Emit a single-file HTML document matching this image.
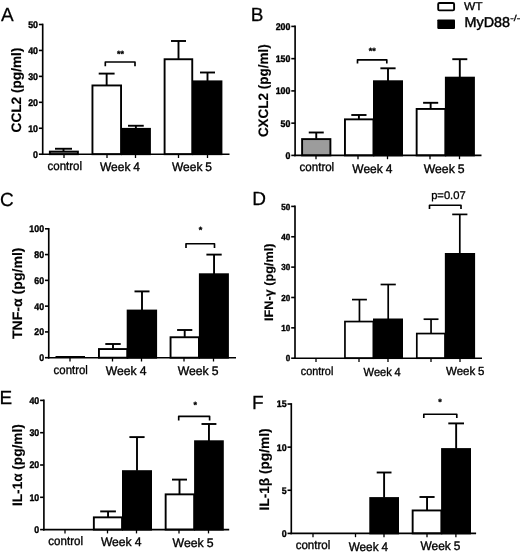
<!DOCTYPE html>
<html><head><meta charset="utf-8"><title>Figure</title>
<style>
html,body{margin:0;padding:0;background:#fff;}
svg{display:block;font-family:"Liberation Sans", sans-serif;fill:#000;text-rendering:geometricPrecision;}
</style></head><body>
<svg width="520" height="553" viewBox="0 0 520 553">
<rect x="0" y="0" width="520" height="553" fill="#fff" stroke="none"/>
<line x1="63.50" y1="148.75" x2="63.50" y2="151.25" stroke="#000" stroke-width="1.9" stroke-linecap="butt"/>
<line x1="55.00" y1="148.75" x2="72.00" y2="148.75" stroke="#000" stroke-width="1.9" stroke-linecap="butt"/>
<rect x="49.85" y="151.60" width="28.05" height="2.60" fill="#9c9c9c" stroke="#000" stroke-width="1.9"/>
<line x1="106.65" y1="73.60" x2="106.65" y2="85.10" stroke="#000" stroke-width="1.9" stroke-linecap="butt"/>
<line x1="98.70" y1="73.60" x2="114.60" y2="73.60" stroke="#000" stroke-width="1.9" stroke-linecap="butt"/>
<rect x="92.45" y="85.45" width="28.60" height="68.75" fill="#ffffff" stroke="#000" stroke-width="1.9"/>
<line x1="135.88" y1="125.75" x2="135.88" y2="128.50" stroke="#000" stroke-width="1.9" stroke-linecap="butt"/>
<line x1="128.00" y1="125.75" x2="143.75" y2="125.75" stroke="#000" stroke-width="1.9" stroke-linecap="butt"/>
<rect x="122.05" y="128.85" width="27.90" height="25.35" fill="#000000" stroke="#000" stroke-width="1.9"/>
<line x1="178.50" y1="41.00" x2="178.50" y2="58.90" stroke="#000" stroke-width="1.9" stroke-linecap="butt"/>
<line x1="171.00" y1="41.00" x2="186.00" y2="41.00" stroke="#000" stroke-width="1.9" stroke-linecap="butt"/>
<rect x="164.60" y="59.25" width="27.65" height="94.95" fill="#ffffff" stroke="#000" stroke-width="1.9"/>
<line x1="207.50" y1="72.50" x2="207.50" y2="81.00" stroke="#000" stroke-width="1.9" stroke-linecap="butt"/>
<line x1="200.00" y1="72.50" x2="215.00" y2="72.50" stroke="#000" stroke-width="1.9" stroke-linecap="butt"/>
<rect x="193.25" y="81.35" width="28.20" height="72.85" fill="#000000" stroke="#000" stroke-width="1.9"/>
<line x1="42.70" y1="23.65" x2="42.70" y2="155.05" stroke="#000" stroke-width="1.65" stroke-linecap="butt"/>
<line x1="41.85" y1="154.20" x2="229.50" y2="154.20" stroke="#000" stroke-width="1.65" stroke-linecap="butt"/>
<line x1="38.90" y1="154.20" x2="42.70" y2="154.20" stroke="#000" stroke-width="1.6" stroke-linecap="butt"/>
<text x="38.00" y="157.61" font-size="9.6" font-weight="bold" text-anchor="end" textLength="4.90" lengthAdjust="spacingAndGlyphs" stroke="#000" stroke-width="0.4">0</text>
<line x1="38.90" y1="128.26" x2="42.70" y2="128.26" stroke="#000" stroke-width="1.6" stroke-linecap="butt"/>
<text x="38.00" y="131.67" font-size="9.6" font-weight="bold" text-anchor="end" textLength="9.80" lengthAdjust="spacingAndGlyphs" stroke="#000" stroke-width="0.4">10</text>
<line x1="38.90" y1="102.32" x2="42.70" y2="102.32" stroke="#000" stroke-width="1.6" stroke-linecap="butt"/>
<text x="38.00" y="105.73" font-size="9.6" font-weight="bold" text-anchor="end" textLength="9.80" lengthAdjust="spacingAndGlyphs" stroke="#000" stroke-width="0.4">20</text>
<line x1="38.90" y1="76.38" x2="42.70" y2="76.38" stroke="#000" stroke-width="1.6" stroke-linecap="butt"/>
<text x="38.00" y="79.79" font-size="9.6" font-weight="bold" text-anchor="end" textLength="9.80" lengthAdjust="spacingAndGlyphs" stroke="#000" stroke-width="0.4">30</text>
<line x1="38.90" y1="50.44" x2="42.70" y2="50.44" stroke="#000" stroke-width="1.6" stroke-linecap="butt"/>
<text x="38.00" y="53.85" font-size="9.6" font-weight="bold" text-anchor="end" textLength="9.80" lengthAdjust="spacingAndGlyphs" stroke="#000" stroke-width="0.4">40</text>
<line x1="38.90" y1="24.50" x2="42.70" y2="24.50" stroke="#000" stroke-width="1.6" stroke-linecap="butt"/>
<text x="38.00" y="27.91" font-size="9.6" font-weight="bold" text-anchor="end" textLength="9.80" lengthAdjust="spacingAndGlyphs" stroke="#000" stroke-width="0.4">50</text>
<line x1="64.00" y1="154.20" x2="64.00" y2="158.00" stroke="#000" stroke-width="1.3" stroke-linecap="butt"/>
<line x1="107.00" y1="154.20" x2="107.00" y2="158.00" stroke="#000" stroke-width="1.3" stroke-linecap="butt"/>
<line x1="135.50" y1="154.20" x2="135.50" y2="158.00" stroke="#000" stroke-width="1.3" stroke-linecap="butt"/>
<line x1="178.50" y1="154.20" x2="178.50" y2="158.00" stroke="#000" stroke-width="1.3" stroke-linecap="butt"/>
<line x1="207.50" y1="154.20" x2="207.50" y2="158.00" stroke="#000" stroke-width="1.3" stroke-linecap="butt"/>
<text x="47.50" y="169.80" font-size="12.3" textLength="34.50" lengthAdjust="spacingAndGlyphs" word-spacing="-0.4" stroke="#000" stroke-width="0.35">control</text>
<text x="100.00" y="170.50" font-size="12.3" textLength="40.00" lengthAdjust="spacingAndGlyphs" word-spacing="-0.4" stroke="#000" stroke-width="0.35">Week 4</text>
<text x="172.00" y="170.50" font-size="12.3" textLength="40.00" lengthAdjust="spacingAndGlyphs" word-spacing="-0.4" stroke="#000" stroke-width="0.35">Week 5</text>
<text x="20.90" y="132.40" font-size="13.7" font-weight="bold" textLength="84.80" lengthAdjust="spacingAndGlyphs" transform="rotate(-90 20.90 132.40)" stroke="#000" stroke-width="0.15">CCL2 (pg/ml)</text>
<text x="0.90" y="20.70" font-size="19" stroke="#000" stroke-width="0.25">A</text>
<polyline points="105.30,66.30 105.30,62.00 135.00,62.00 135.00,66.30" fill="none" stroke="#000" stroke-width="1.65" stroke-linejoin="round"/>
<text x="120.50" y="56.60" font-size="9" font-weight="bold" text-anchor="middle" stroke="#000" stroke-width="0.3">**</text>
<line x1="316.25" y1="132.50" x2="316.25" y2="138.75" stroke="#000" stroke-width="1.9" stroke-linecap="butt"/>
<line x1="308.75" y1="132.50" x2="323.75" y2="132.50" stroke="#000" stroke-width="1.9" stroke-linecap="butt"/>
<rect x="302.10" y="139.10" width="28.30" height="16.30" fill="#9c9c9c" stroke="#000" stroke-width="1.9"/>
<line x1="358.90" y1="115.00" x2="358.90" y2="119.00" stroke="#000" stroke-width="1.9" stroke-linecap="butt"/>
<line x1="351.30" y1="115.00" x2="366.50" y2="115.00" stroke="#000" stroke-width="1.9" stroke-linecap="butt"/>
<rect x="344.95" y="119.35" width="28.50" height="36.05" fill="#ffffff" stroke="#000" stroke-width="1.9"/>
<line x1="388.00" y1="68.30" x2="388.00" y2="80.90" stroke="#000" stroke-width="1.9" stroke-linecap="butt"/>
<line x1="380.40" y1="68.30" x2="395.60" y2="68.30" stroke="#000" stroke-width="1.9" stroke-linecap="butt"/>
<rect x="373.95" y="81.25" width="28.10" height="74.15" fill="#000000" stroke="#000" stroke-width="1.9"/>
<line x1="430.65" y1="102.80" x2="430.65" y2="108.60" stroke="#000" stroke-width="1.9" stroke-linecap="butt"/>
<line x1="423.10" y1="102.80" x2="438.20" y2="102.80" stroke="#000" stroke-width="1.9" stroke-linecap="butt"/>
<rect x="416.65" y="108.95" width="28.70" height="46.45" fill="#ffffff" stroke="#000" stroke-width="1.9"/>
<line x1="459.80" y1="59.20" x2="459.80" y2="77.30" stroke="#000" stroke-width="1.9" stroke-linecap="butt"/>
<line x1="452.30" y1="59.20" x2="467.30" y2="59.20" stroke="#000" stroke-width="1.9" stroke-linecap="butt"/>
<rect x="445.85" y="77.65" width="28.10" height="77.75" fill="#000000" stroke="#000" stroke-width="1.9"/>
<line x1="295.10" y1="25.55" x2="295.10" y2="156.25" stroke="#000" stroke-width="1.65" stroke-linecap="butt"/>
<line x1="294.25" y1="155.40" x2="481.50" y2="155.40" stroke="#000" stroke-width="1.65" stroke-linecap="butt"/>
<line x1="291.30" y1="155.40" x2="295.10" y2="155.40" stroke="#000" stroke-width="1.6" stroke-linecap="butt"/>
<text x="290.40" y="158.81" font-size="9.6" font-weight="bold" text-anchor="end" textLength="4.90" lengthAdjust="spacingAndGlyphs" stroke="#000" stroke-width="0.4">0</text>
<line x1="291.30" y1="123.15" x2="295.10" y2="123.15" stroke="#000" stroke-width="1.6" stroke-linecap="butt"/>
<text x="290.40" y="126.56" font-size="9.6" font-weight="bold" text-anchor="end" textLength="9.80" lengthAdjust="spacingAndGlyphs" stroke="#000" stroke-width="0.4">50</text>
<line x1="291.30" y1="90.90" x2="295.10" y2="90.90" stroke="#000" stroke-width="1.6" stroke-linecap="butt"/>
<text x="290.40" y="94.31" font-size="9.6" font-weight="bold" text-anchor="end" textLength="14.70" lengthAdjust="spacingAndGlyphs" stroke="#000" stroke-width="0.4">100</text>
<line x1="291.30" y1="58.65" x2="295.10" y2="58.65" stroke="#000" stroke-width="1.6" stroke-linecap="butt"/>
<text x="290.40" y="62.06" font-size="9.6" font-weight="bold" text-anchor="end" textLength="14.70" lengthAdjust="spacingAndGlyphs" stroke="#000" stroke-width="0.4">150</text>
<line x1="291.30" y1="26.40" x2="295.10" y2="26.40" stroke="#000" stroke-width="1.6" stroke-linecap="butt"/>
<text x="290.40" y="29.81" font-size="9.6" font-weight="bold" text-anchor="end" textLength="14.70" lengthAdjust="spacingAndGlyphs" stroke="#000" stroke-width="0.4">200</text>
<line x1="316.00" y1="155.40" x2="316.00" y2="159.20" stroke="#000" stroke-width="1.3" stroke-linecap="butt"/>
<line x1="358.00" y1="155.40" x2="358.00" y2="159.20" stroke="#000" stroke-width="1.3" stroke-linecap="butt"/>
<line x1="387.50" y1="155.40" x2="387.50" y2="159.20" stroke="#000" stroke-width="1.3" stroke-linecap="butt"/>
<line x1="430.00" y1="155.40" x2="430.00" y2="159.20" stroke="#000" stroke-width="1.3" stroke-linecap="butt"/>
<line x1="459.50" y1="155.40" x2="459.50" y2="159.20" stroke="#000" stroke-width="1.3" stroke-linecap="butt"/>
<text x="299.60" y="171.00" font-size="12.3" textLength="34.60" lengthAdjust="spacingAndGlyphs" word-spacing="-0.4" stroke="#000" stroke-width="0.35">control</text>
<text x="352.30" y="173.00" font-size="12.3" textLength="40.00" lengthAdjust="spacingAndGlyphs" word-spacing="-0.4" stroke="#000" stroke-width="0.35">Week 4</text>
<text x="423.70" y="173.00" font-size="12.3" textLength="40.90" lengthAdjust="spacingAndGlyphs" word-spacing="-0.4" stroke="#000" stroke-width="0.35">Week 5</text>
<text x="267.80" y="137.10" font-size="13.7" font-weight="bold" textLength="92.80" lengthAdjust="spacingAndGlyphs" transform="rotate(-90 267.80 137.10)" stroke="#000" stroke-width="0.15">CXCL2 (pg/ml)</text>
<text x="250.80" y="20.70" font-size="19" stroke="#000" stroke-width="0.25">B</text>
<polyline points="357.50,63.50 357.50,59.80 386.80,59.80 386.80,63.50" fill="none" stroke="#000" stroke-width="1.65" stroke-linejoin="round"/>
<text x="372.20" y="54.30" font-size="9" font-weight="bold" text-anchor="middle" stroke="#000" stroke-width="0.3">**</text>
<line x1="55.50" y1="356.50" x2="85.00" y2="356.50" stroke="#000" stroke-width="1.0" stroke-linecap="butt"/>
<line x1="113.00" y1="344.00" x2="113.00" y2="348.70" stroke="#000" stroke-width="1.9" stroke-linecap="butt"/>
<line x1="105.30" y1="344.00" x2="120.70" y2="344.00" stroke="#000" stroke-width="1.9" stroke-linecap="butt"/>
<rect x="98.95" y="349.05" width="28.40" height="8.65" fill="#ffffff" stroke="#000" stroke-width="1.9"/>
<line x1="142.00" y1="291.40" x2="142.00" y2="310.20" stroke="#000" stroke-width="1.9" stroke-linecap="butt"/>
<line x1="134.50" y1="291.40" x2="149.50" y2="291.40" stroke="#000" stroke-width="1.9" stroke-linecap="butt"/>
<rect x="127.65" y="310.55" width="28.50" height="47.15" fill="#000000" stroke="#000" stroke-width="1.9"/>
<line x1="184.70" y1="330.00" x2="184.70" y2="336.90" stroke="#000" stroke-width="1.9" stroke-linecap="butt"/>
<line x1="177.10" y1="330.00" x2="192.30" y2="330.00" stroke="#000" stroke-width="1.9" stroke-linecap="butt"/>
<rect x="170.55" y="337.25" width="28.40" height="20.45" fill="#ffffff" stroke="#000" stroke-width="1.9"/>
<line x1="214.05" y1="254.60" x2="214.05" y2="273.90" stroke="#000" stroke-width="1.9" stroke-linecap="butt"/>
<line x1="206.40" y1="254.60" x2="221.70" y2="254.60" stroke="#000" stroke-width="1.9" stroke-linecap="butt"/>
<rect x="199.85" y="274.25" width="28.10" height="83.45" fill="#000000" stroke="#000" stroke-width="1.9"/>
<line x1="48.75" y1="227.95" x2="48.75" y2="358.55" stroke="#000" stroke-width="1.65" stroke-linecap="butt"/>
<line x1="47.90" y1="357.70" x2="236.00" y2="357.70" stroke="#000" stroke-width="1.65" stroke-linecap="butt"/>
<line x1="44.95" y1="357.70" x2="48.75" y2="357.70" stroke="#000" stroke-width="1.6" stroke-linecap="butt"/>
<text x="44.05" y="361.11" font-size="9.6" font-weight="bold" text-anchor="end" textLength="4.90" lengthAdjust="spacingAndGlyphs" stroke="#000" stroke-width="0.4">0</text>
<line x1="44.95" y1="331.92" x2="48.75" y2="331.92" stroke="#000" stroke-width="1.6" stroke-linecap="butt"/>
<text x="44.05" y="335.33" font-size="9.6" font-weight="bold" text-anchor="end" textLength="9.80" lengthAdjust="spacingAndGlyphs" stroke="#000" stroke-width="0.4">20</text>
<line x1="44.95" y1="306.14" x2="48.75" y2="306.14" stroke="#000" stroke-width="1.6" stroke-linecap="butt"/>
<text x="44.05" y="309.55" font-size="9.6" font-weight="bold" text-anchor="end" textLength="9.80" lengthAdjust="spacingAndGlyphs" stroke="#000" stroke-width="0.4">40</text>
<line x1="44.95" y1="280.36" x2="48.75" y2="280.36" stroke="#000" stroke-width="1.6" stroke-linecap="butt"/>
<text x="44.05" y="283.77" font-size="9.6" font-weight="bold" text-anchor="end" textLength="9.80" lengthAdjust="spacingAndGlyphs" stroke="#000" stroke-width="0.4">60</text>
<line x1="44.95" y1="254.58" x2="48.75" y2="254.58" stroke="#000" stroke-width="1.6" stroke-linecap="butt"/>
<text x="44.05" y="257.99" font-size="9.6" font-weight="bold" text-anchor="end" textLength="9.80" lengthAdjust="spacingAndGlyphs" stroke="#000" stroke-width="0.4">80</text>
<line x1="44.95" y1="228.80" x2="48.75" y2="228.80" stroke="#000" stroke-width="1.6" stroke-linecap="butt"/>
<text x="44.05" y="232.21" font-size="9.6" font-weight="bold" text-anchor="end" textLength="14.70" lengthAdjust="spacingAndGlyphs" stroke="#000" stroke-width="0.4">100</text>
<line x1="70.00" y1="357.70" x2="70.00" y2="361.50" stroke="#000" stroke-width="1.3" stroke-linecap="butt"/>
<line x1="112.50" y1="357.70" x2="112.50" y2="361.50" stroke="#000" stroke-width="1.3" stroke-linecap="butt"/>
<line x1="141.50" y1="357.70" x2="141.50" y2="361.50" stroke="#000" stroke-width="1.3" stroke-linecap="butt"/>
<line x1="184.00" y1="357.70" x2="184.00" y2="361.50" stroke="#000" stroke-width="1.3" stroke-linecap="butt"/>
<line x1="213.50" y1="357.70" x2="213.50" y2="361.50" stroke="#000" stroke-width="1.3" stroke-linecap="butt"/>
<text x="53.60" y="373.70" font-size="12.3" textLength="34.30" lengthAdjust="spacingAndGlyphs" word-spacing="-0.4" stroke="#000" stroke-width="0.35">control</text>
<text x="105.80" y="374.60" font-size="12.3" textLength="40.60" lengthAdjust="spacingAndGlyphs" word-spacing="-0.4" stroke="#000" stroke-width="0.35">Week 4</text>
<text x="177.70" y="374.90" font-size="12.3" textLength="40.80" lengthAdjust="spacingAndGlyphs" word-spacing="-0.4" stroke="#000" stroke-width="0.35">Week 5</text>
<text x="22.10" y="339.00" font-size="13.7" font-weight="bold" textLength="91.50" lengthAdjust="spacingAndGlyphs" transform="rotate(-90 22.10 339.00)" stroke="#000" stroke-width="0.15">TNF-α (pg/ml)</text>
<text x="0.00" y="205.60" font-size="19" stroke="#000" stroke-width="0.25">C</text>
<polyline points="186.00,248.00 186.00,243.70 214.50,243.70 214.50,248.00" fill="none" stroke="#000" stroke-width="1.65" stroke-linejoin="round"/>
<text x="200.40" y="233.40" font-size="9" font-weight="bold" text-anchor="middle" stroke="#000" stroke-width="0.3">*</text>
<line x1="359.45" y1="299.60" x2="359.45" y2="321.20" stroke="#000" stroke-width="1.7" stroke-linecap="butt"/>
<line x1="352.00" y1="299.60" x2="366.90" y2="299.60" stroke="#000" stroke-width="1.7" stroke-linecap="butt"/>
<rect x="344.95" y="321.55" width="28.40" height="36.65" fill="#ffffff" stroke="#000" stroke-width="1.7"/>
<line x1="388.20" y1="284.50" x2="388.20" y2="319.00" stroke="#000" stroke-width="1.7" stroke-linecap="butt"/>
<line x1="380.60" y1="284.50" x2="395.80" y2="284.50" stroke="#000" stroke-width="1.7" stroke-linecap="butt"/>
<rect x="373.85" y="319.35" width="28.30" height="38.85" fill="#000000" stroke="#000" stroke-width="1.7"/>
<line x1="431.05" y1="319.20" x2="431.05" y2="333.20" stroke="#000" stroke-width="1.7" stroke-linecap="butt"/>
<line x1="423.60" y1="319.20" x2="438.50" y2="319.20" stroke="#000" stroke-width="1.7" stroke-linecap="butt"/>
<rect x="416.80" y="333.55" width="28.20" height="24.65" fill="#ffffff" stroke="#000" stroke-width="1.7"/>
<line x1="459.80" y1="214.40" x2="459.80" y2="253.50" stroke="#000" stroke-width="1.7" stroke-linecap="butt"/>
<line x1="452.20" y1="214.40" x2="467.40" y2="214.40" stroke="#000" stroke-width="1.7" stroke-linecap="butt"/>
<rect x="445.70" y="253.85" width="28.55" height="104.35" fill="#000000" stroke="#000" stroke-width="1.7"/>
<line x1="295.00" y1="205.55" x2="295.00" y2="359.05" stroke="#000" stroke-width="1.65" stroke-linecap="butt"/>
<line x1="294.15" y1="358.20" x2="482.00" y2="358.20" stroke="#000" stroke-width="1.65" stroke-linecap="butt"/>
<line x1="291.20" y1="358.20" x2="295.00" y2="358.20" stroke="#000" stroke-width="1.6" stroke-linecap="butt"/>
<text x="290.30" y="361.32" font-size="8.8" font-weight="bold" text-anchor="end" textLength="4.50" lengthAdjust="spacingAndGlyphs" stroke="#000" stroke-width="0.4">0</text>
<line x1="291.20" y1="327.84" x2="295.00" y2="327.84" stroke="#000" stroke-width="1.6" stroke-linecap="butt"/>
<text x="290.30" y="330.96" font-size="8.8" font-weight="bold" text-anchor="end" textLength="9.00" lengthAdjust="spacingAndGlyphs" stroke="#000" stroke-width="0.4">10</text>
<line x1="291.20" y1="297.48" x2="295.00" y2="297.48" stroke="#000" stroke-width="1.6" stroke-linecap="butt"/>
<text x="290.30" y="300.60" font-size="8.8" font-weight="bold" text-anchor="end" textLength="9.00" lengthAdjust="spacingAndGlyphs" stroke="#000" stroke-width="0.4">20</text>
<line x1="291.20" y1="267.12" x2="295.00" y2="267.12" stroke="#000" stroke-width="1.6" stroke-linecap="butt"/>
<text x="290.30" y="270.24" font-size="8.8" font-weight="bold" text-anchor="end" textLength="9.00" lengthAdjust="spacingAndGlyphs" stroke="#000" stroke-width="0.4">30</text>
<line x1="291.20" y1="236.76" x2="295.00" y2="236.76" stroke="#000" stroke-width="1.6" stroke-linecap="butt"/>
<text x="290.30" y="239.88" font-size="8.8" font-weight="bold" text-anchor="end" textLength="9.00" lengthAdjust="spacingAndGlyphs" stroke="#000" stroke-width="0.4">40</text>
<line x1="291.20" y1="206.40" x2="295.00" y2="206.40" stroke="#000" stroke-width="1.6" stroke-linecap="butt"/>
<text x="290.30" y="209.52" font-size="8.8" font-weight="bold" text-anchor="end" textLength="9.00" lengthAdjust="spacingAndGlyphs" stroke="#000" stroke-width="0.4">50</text>
<line x1="316.00" y1="358.20" x2="316.00" y2="362.00" stroke="#000" stroke-width="1.3" stroke-linecap="butt"/>
<line x1="359.00" y1="358.20" x2="359.00" y2="362.00" stroke="#000" stroke-width="1.3" stroke-linecap="butt"/>
<line x1="388.00" y1="358.20" x2="388.00" y2="362.00" stroke="#000" stroke-width="1.3" stroke-linecap="butt"/>
<line x1="431.00" y1="358.20" x2="431.00" y2="362.00" stroke="#000" stroke-width="1.3" stroke-linecap="butt"/>
<line x1="460.00" y1="358.20" x2="460.00" y2="362.00" stroke="#000" stroke-width="1.3" stroke-linecap="butt"/>
<text x="300.80" y="375.00" font-size="11.8" textLength="32.50" lengthAdjust="spacingAndGlyphs" word-spacing="-0.4" stroke="#000" stroke-width="0.35">control</text>
<text x="363.60" y="376.30" font-size="11.8" textLength="37.10" lengthAdjust="spacingAndGlyphs" word-spacing="-0.4" stroke="#000" stroke-width="0.35">Week 4</text>
<text x="446.00" y="375.00" font-size="11.8" textLength="38.40" lengthAdjust="spacingAndGlyphs" word-spacing="-0.4" stroke="#000" stroke-width="0.35">Week 5</text>
<text x="273.20" y="321.00" font-size="12.3" font-weight="bold" textLength="77.40" lengthAdjust="spacingAndGlyphs" transform="rotate(-90 273.20 321.00)" stroke="#000" stroke-width="0.15">IFN-γ (pg/ml)</text>
<text x="252.20" y="204.50" font-size="19" stroke="#000" stroke-width="0.25">D</text>
<polyline points="429.50,208.90 429.50,205.20 461.00,205.20 461.00,208.90" fill="none" stroke="#000" stroke-width="1.65" stroke-linejoin="round"/>
<text x="448.40" y="198.80" font-size="11.2" text-anchor="middle" stroke="#000" stroke-width="0.3">p=0.07</text>
<line x1="108.05" y1="511.40" x2="108.05" y2="517.00" stroke="#000" stroke-width="1.9" stroke-linecap="butt"/>
<line x1="100.20" y1="511.40" x2="115.90" y2="511.40" stroke="#000" stroke-width="1.9" stroke-linecap="butt"/>
<rect x="93.85" y="517.35" width="28.20" height="12.25" fill="#ffffff" stroke="#000" stroke-width="1.9"/>
<line x1="137.00" y1="437.10" x2="137.00" y2="470.80" stroke="#000" stroke-width="1.9" stroke-linecap="butt"/>
<line x1="129.40" y1="437.10" x2="144.60" y2="437.10" stroke="#000" stroke-width="1.9" stroke-linecap="butt"/>
<rect x="122.95" y="471.15" width="28.10" height="58.45" fill="#000000" stroke="#000" stroke-width="1.9"/>
<line x1="179.50" y1="479.60" x2="179.50" y2="494.00" stroke="#000" stroke-width="1.9" stroke-linecap="butt"/>
<line x1="172.00" y1="479.60" x2="187.00" y2="479.60" stroke="#000" stroke-width="1.9" stroke-linecap="butt"/>
<rect x="165.65" y="494.35" width="28.50" height="35.25" fill="#ffffff" stroke="#000" stroke-width="1.9"/>
<line x1="208.95" y1="424.00" x2="208.95" y2="440.90" stroke="#000" stroke-width="1.9" stroke-linecap="butt"/>
<line x1="201.50" y1="424.00" x2="216.40" y2="424.00" stroke="#000" stroke-width="1.9" stroke-linecap="butt"/>
<rect x="195.05" y="441.25" width="27.80" height="88.35" fill="#000000" stroke="#000" stroke-width="1.9"/>
<line x1="43.90" y1="399.55" x2="43.90" y2="530.45" stroke="#000" stroke-width="1.65" stroke-linecap="butt"/>
<line x1="43.05" y1="529.60" x2="229.20" y2="529.60" stroke="#000" stroke-width="1.65" stroke-linecap="butt"/>
<line x1="40.10" y1="529.60" x2="43.90" y2="529.60" stroke="#000" stroke-width="1.6" stroke-linecap="butt"/>
<text x="39.20" y="533.01" font-size="9.6" font-weight="bold" text-anchor="end" textLength="4.90" lengthAdjust="spacingAndGlyphs" stroke="#000" stroke-width="0.4">0</text>
<line x1="40.10" y1="497.30" x2="43.90" y2="497.30" stroke="#000" stroke-width="1.6" stroke-linecap="butt"/>
<text x="39.20" y="500.71" font-size="9.6" font-weight="bold" text-anchor="end" textLength="9.80" lengthAdjust="spacingAndGlyphs" stroke="#000" stroke-width="0.4">10</text>
<line x1="40.10" y1="465.00" x2="43.90" y2="465.00" stroke="#000" stroke-width="1.6" stroke-linecap="butt"/>
<text x="39.20" y="468.41" font-size="9.6" font-weight="bold" text-anchor="end" textLength="9.80" lengthAdjust="spacingAndGlyphs" stroke="#000" stroke-width="0.4">20</text>
<line x1="40.10" y1="432.70" x2="43.90" y2="432.70" stroke="#000" stroke-width="1.6" stroke-linecap="butt"/>
<text x="39.20" y="436.11" font-size="9.6" font-weight="bold" text-anchor="end" textLength="9.80" lengthAdjust="spacingAndGlyphs" stroke="#000" stroke-width="0.4">30</text>
<line x1="40.10" y1="400.40" x2="43.90" y2="400.40" stroke="#000" stroke-width="1.6" stroke-linecap="butt"/>
<text x="39.20" y="403.81" font-size="9.6" font-weight="bold" text-anchor="end" textLength="9.80" lengthAdjust="spacingAndGlyphs" stroke="#000" stroke-width="0.4">40</text>
<line x1="65.00" y1="529.60" x2="65.00" y2="533.40" stroke="#000" stroke-width="1.3" stroke-linecap="butt"/>
<line x1="107.50" y1="529.60" x2="107.50" y2="533.40" stroke="#000" stroke-width="1.3" stroke-linecap="butt"/>
<line x1="136.50" y1="529.60" x2="136.50" y2="533.40" stroke="#000" stroke-width="1.3" stroke-linecap="butt"/>
<line x1="179.00" y1="529.60" x2="179.00" y2="533.40" stroke="#000" stroke-width="1.3" stroke-linecap="butt"/>
<line x1="208.50" y1="529.60" x2="208.50" y2="533.40" stroke="#000" stroke-width="1.3" stroke-linecap="butt"/>
<text x="48.30" y="544.90" font-size="12.3" textLength="34.70" lengthAdjust="spacingAndGlyphs" word-spacing="-0.4" stroke="#000" stroke-width="0.35">control</text>
<text x="100.90" y="546.20" font-size="12.3" textLength="40.50" lengthAdjust="spacingAndGlyphs" word-spacing="-0.4" stroke="#000" stroke-width="0.35">Week 4</text>
<text x="172.60" y="546.80" font-size="12.3" textLength="41.00" lengthAdjust="spacingAndGlyphs" word-spacing="-0.4" stroke="#000" stroke-width="0.35">Week 5</text>
<text x="22.00" y="506.00" font-size="13.7" font-weight="bold" textLength="81.70" lengthAdjust="spacingAndGlyphs" transform="rotate(-90 22.00 506.00)" stroke="#000" stroke-width="0.15">IL-1α (pg/ml)</text>
<text x="-0.60" y="404.40" font-size="19" stroke="#000" stroke-width="0.25">E</text>
<polyline points="178.70,420.60 178.70,416.30 209.60,416.30 209.60,420.60" fill="none" stroke="#000" stroke-width="1.65" stroke-linejoin="round"/>
<text x="195.20" y="408.00" font-size="9" font-weight="bold" text-anchor="middle" stroke="#000" stroke-width="0.3">*</text>
<line x1="384.10" y1="472.50" x2="384.10" y2="497.70" stroke="#000" stroke-width="1.9" stroke-linecap="butt"/>
<line x1="376.70" y1="472.50" x2="391.50" y2="472.50" stroke="#000" stroke-width="1.9" stroke-linecap="butt"/>
<rect x="370.25" y="498.05" width="27.80" height="35.35" fill="#000000" stroke="#000" stroke-width="1.9"/>
<line x1="427.05" y1="497.00" x2="427.05" y2="510.10" stroke="#000" stroke-width="1.9" stroke-linecap="butt"/>
<line x1="419.50" y1="497.00" x2="434.60" y2="497.00" stroke="#000" stroke-width="1.9" stroke-linecap="butt"/>
<rect x="412.65" y="510.45" width="28.70" height="22.95" fill="#ffffff" stroke="#000" stroke-width="1.9"/>
<line x1="456.15" y1="423.40" x2="456.15" y2="448.70" stroke="#000" stroke-width="1.9" stroke-linecap="butt"/>
<line x1="448.30" y1="423.40" x2="464.00" y2="423.40" stroke="#000" stroke-width="1.9" stroke-linecap="butt"/>
<rect x="442.05" y="449.05" width="28.00" height="84.35" fill="#000000" stroke="#000" stroke-width="1.9"/>
<line x1="291.30" y1="403.15" x2="291.30" y2="534.25" stroke="#000" stroke-width="1.65" stroke-linecap="butt"/>
<line x1="290.45" y1="533.40" x2="476.10" y2="533.40" stroke="#000" stroke-width="1.65" stroke-linecap="butt"/>
<line x1="287.50" y1="533.40" x2="291.30" y2="533.40" stroke="#000" stroke-width="1.6" stroke-linecap="butt"/>
<text x="286.60" y="536.81" font-size="9.6" font-weight="bold" text-anchor="end" textLength="4.90" lengthAdjust="spacingAndGlyphs" stroke="#000" stroke-width="0.4">0</text>
<line x1="287.50" y1="490.27" x2="291.30" y2="490.27" stroke="#000" stroke-width="1.6" stroke-linecap="butt"/>
<text x="286.60" y="493.68" font-size="9.6" font-weight="bold" text-anchor="end" textLength="4.90" lengthAdjust="spacingAndGlyphs" stroke="#000" stroke-width="0.4">5</text>
<line x1="287.50" y1="447.14" x2="291.30" y2="447.14" stroke="#000" stroke-width="1.6" stroke-linecap="butt"/>
<text x="286.60" y="450.55" font-size="9.6" font-weight="bold" text-anchor="end" textLength="9.80" lengthAdjust="spacingAndGlyphs" stroke="#000" stroke-width="0.4">10</text>
<line x1="287.50" y1="404.01" x2="291.30" y2="404.01" stroke="#000" stroke-width="1.6" stroke-linecap="butt"/>
<text x="286.60" y="407.42" font-size="9.6" font-weight="bold" text-anchor="end" textLength="9.80" lengthAdjust="spacingAndGlyphs" stroke="#000" stroke-width="0.4">15</text>
<line x1="313.00" y1="533.40" x2="313.00" y2="537.20" stroke="#000" stroke-width="1.3" stroke-linecap="butt"/>
<line x1="355.50" y1="533.40" x2="355.50" y2="537.20" stroke="#000" stroke-width="1.3" stroke-linecap="butt"/>
<line x1="384.00" y1="533.40" x2="384.00" y2="537.20" stroke="#000" stroke-width="1.3" stroke-linecap="butt"/>
<line x1="427.00" y1="533.40" x2="427.00" y2="537.20" stroke="#000" stroke-width="1.3" stroke-linecap="butt"/>
<line x1="455.90" y1="533.40" x2="455.90" y2="537.20" stroke="#000" stroke-width="1.3" stroke-linecap="butt"/>
<text x="295.70" y="549.00" font-size="12.3" textLength="34.60" lengthAdjust="spacingAndGlyphs" word-spacing="-0.4" stroke="#000" stroke-width="0.35">control</text>
<text x="348.70" y="550.50" font-size="12.3" textLength="39.30" lengthAdjust="spacingAndGlyphs" word-spacing="-0.4" stroke="#000" stroke-width="0.35">Week 4</text>
<text x="420.50" y="550.20" font-size="12.3" textLength="39.80" lengthAdjust="spacingAndGlyphs" word-spacing="-0.4" stroke="#000" stroke-width="0.35">Week 5</text>
<text x="269.00" y="510.50" font-size="13.7" font-weight="bold" textLength="82.00" lengthAdjust="spacingAndGlyphs" transform="rotate(-90 269.00 510.50)" stroke="#000" stroke-width="0.15">IL-1β (pg/ml)</text>
<text x="252.00" y="409.40" font-size="19" stroke="#000" stroke-width="0.25">F</text>
<polyline points="423.80,418.10 423.80,414.20 456.80,414.20 456.80,418.10" fill="none" stroke="#000" stroke-width="1.65" stroke-linejoin="round"/>
<text x="440.10" y="404.60" font-size="9" font-weight="bold" text-anchor="middle" stroke="#000" stroke-width="0.3">*</text>
<rect x="438.2" y="2.95" width="15.9" height="7.4" rx="1.2" fill="#fff" stroke="#000" stroke-width="1.9"/>
<rect x="437.3" y="19.4" width="17.7" height="9.5" rx="0.8" fill="#000"/>
<text x="463.90" y="10.05" font-size="11.4" textLength="18.60" lengthAdjust="spacingAndGlyphs" stroke="#000" stroke-width="0.3">WT</text>
<text x="464.60" y="26.70" font-size="14.3" textLength="45.50" lengthAdjust="spacingAndGlyphs" stroke="#000" stroke-width="0.45">MyD88</text>
<text x="510.30" y="21.40" font-size="8.5" textLength="10.00" lengthAdjust="spacingAndGlyphs" stroke="#000" stroke-width="0.3">-/-</text>
</svg>
</body></html>
